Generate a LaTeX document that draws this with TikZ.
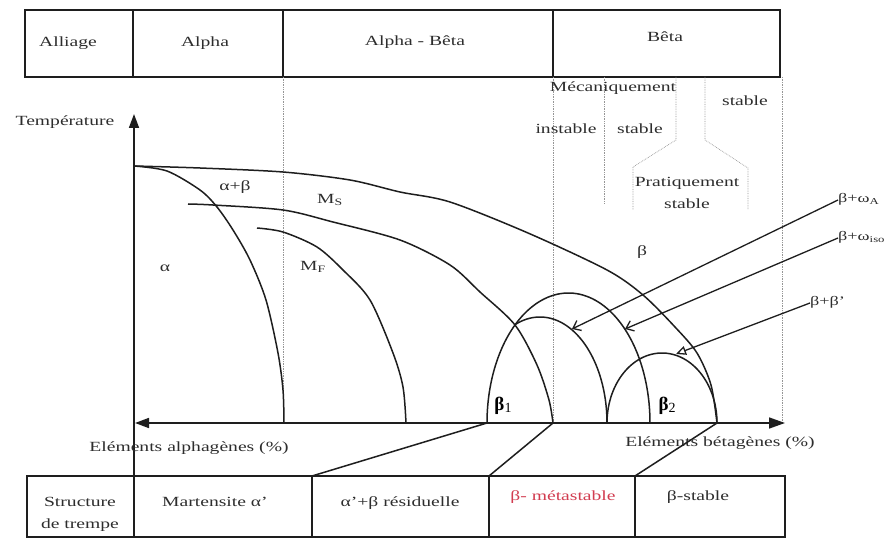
\documentclass[tikz,border=0pt]{standalone}
\usepackage{fontspec}
\setmainfont{Liberation Serif}[FakeStretch=1.4]
\newfontfamily\plainserif{Liberation Serif}
\usetikzlibrary{arrows.meta}
\definecolor{ink}{RGB}{30,30,30}
\definecolor{textink}{RGB}{45,45,45}
\definecolor{redtext}{RGB}{210,60,80}
\definecolor{dotgray}{RGB}{150,150,150}
\begin{document}
\begin{tikzpicture}[x=1pt,y=-1pt,
  txt/.style={font=\fontsize{14}{16}\selectfont, text=textink, inner sep=0pt, text height=9.5pt, text depth=3pt},
  smalltxt/.style={font=\fontsize{13}{15}\selectfont, text=textink, inner sep=0pt, text height=9pt, text depth=3pt},
  bigbeta/.style={font=\plainserif\fontsize{19}{21}\selectfont\bfseries, text=black, inner sep=0pt},
  curve/.style={line width=1.5pt, draw=ink},
  frame/.style={line width=1.7pt, draw=ink},
  guide/.style={densely dotted, draw=dotgray, line width=0.7pt},
  axisline/.style={line width=1.6pt, draw=ink},
  pointer/.style={line width=1.3pt, draw=ink, -{Straight Barb[length=7pt,width=11pt]}},
  openpointer/.style={line width=1.3pt, draw=ink, -{Triangle[open,length=10pt,width=9pt]}},
]
\useasboundingbox (0,0) rectangle (887,540);
\fill[white] (0,0) rectangle (887,540);

% ---------- top table ----------
\draw[frame] (25,10) rectangle (780,77);
\draw[frame] (133,10) -- (133,77) (283,10) -- (283,77) (553,10) -- (553,77);
\node[txt] (alliage) at (68,43) {Alliage};
\node[txt] (alpha) at (205,43) {Alpha};
\node[txt] (alphabeta) at (415,42) {Alpha - Bêta};
\node[txt] (betacol) at (665,38) {Bêta};

% ---------- dotted guides ----------
\draw[guide] (283,77) -- (283,423);
\draw[guide] (553,77) -- (553,423);
\draw[guide] (604,77) -- (604,203);
\draw[guide] (676,77) -- (676,140) -- (633,167) -- (633,210);
\draw[guide] (705,77) -- (705,140) -- (748,168) -- (748,210);
\draw[guide] (782,77) -- (782,423);

\node[txt] (meca) at (613,88) {Mécaniquement};
\node[txt] (instable) at (566,130) {instable};
\node[txt] (mstable) at (640,130) {stable};
\node[txt] (stable) at (745,102) {stable};
\node[txt] (prat) at (687,183) {Pratiquement};
\node[txt] (pstable) at (687,205) {stable};

% ---------- axes ----------
\coordinate (yaxbot) at (134,537);
\coordinate (yaxtop) at (134,114);
\coordinate (xaxleft) at (135,423);
\coordinate (xaxright) at (785,423);
\draw[axisline, -{Triangle[length=14pt,width=10pt]}] (yaxbot) -- (yaxtop);
\draw[axisline, {Triangle[length=14pt,width=10pt]}-{Triangle[length=16pt,width=11pt]}] (xaxleft) -- (xaxright);
\node[txt] (temp) at (65,122) {Température};
\node[txt] (alphagenes) at (189,448) {Eléments alphagènes (\%)};
\node[txt] (betagenes) at (720,443) {Eléments bétagènes (\%)};

% ---------- curves ----------
% beta transus
\draw[curve] plot[smooth] coordinates {(134,166) (200,168) (283,172) (350,180) (400,192) (450,202) (528,233) (607,270) (643,295) (675,327) (697,353) (711,385) (717,423)};
% alpha / alpha+beta
\draw[curve] plot[smooth] coordinates {(134,166) (167,171) (200,190) (217,207) (233,230) (250,260) (266,300) (278,353) (283,390) (284,423)};
% Ms
\draw[curve] plot[smooth] coordinates {(188,204) (213,205) (283,210) (333,222) (400,240) (450,265) (480,292) (515,325) (537,365) (549,400) (553,423)};
% Mf
\draw[curve] plot[smooth] coordinates {(257,228) (283,232) (317,247) (343,270) (370,300) (393,353) (403,387) (406,423)};
% beta1 outer arch
\draw[curve] plot[domain=180:360, samples=80] ({568.5+81.5*cos(\x)},{423+130*sin(\x)});
% beta1 inner arch
\draw[curve] plot[domain=248:360, samples=60] ({540+67*cos(\x)},{423+106*sin(\x)});
% beta2 arch
\draw[curve] plot[domain=180:360, samples=60] ({662+55*cos(\x)},{423+70*sin(\x)});

% ---------- region labels ----------
\node[txt] (lalpha) at (165,268) {α};
\node[txt] (lab) at (235,187) {α+β};
\node[txt] (lms) at (330,200) {M\textsubscript{S}};
\node[txt] (lmf) at (313,267) {M\textsubscript{F}};
\node[txt] (lbeta) at (642,252) {β};
\node[bigbeta] (b1) at (503,406) {β\raisebox{-2pt}{\fontsize{14}{14}\selectfont\mdseries 1}};
\node[bigbeta] (b2) at (667,406) {β\raisebox{-2pt}{\fontsize{14}{14}\selectfont\mdseries 2}};

% ---------- pointers ----------
\node[smalltxt, anchor=west] (wa) at (838,200) {β+ω\textsubscript{A}};
\node[smalltxt, anchor=west] (wi) at (838,238) {β+ω\textsubscript{iso}};
\node[smalltxt, anchor=west] (bb) at (810,303) {β+β'};
\coordinate (ta) at (572,329);
\coordinate (ti) at (625,329);
\coordinate (tb) at (676,354);
\draw[pointer] (wa.west) -- (ta);
\draw[pointer] (wi.west) -- (ti);
\draw[openpointer] (bb.west) -- (tb);

% ---------- bottom table ----------
\draw[frame] (27,476) rectangle (785,537);
\draw[frame] (312,476) -- (312,537) (489,476) -- (489,537) (635,476) -- (635,537);
\coordinate (c1) at (312,476);
\coordinate (c2) at (489,476);
\coordinate (c3) at (635,476);
\coordinate (f1) at (487,423);
\coordinate (f2) at (553,423);
\coordinate (f3) at (717,423);
\draw[curve] (c1) -- (f1);
\draw[curve] (c2) -- (f2);
\draw[curve] (c3) -- (f3);

\node[txt] (struct) at (80,503) {Structure};
\node[txt] (trempe) at (80,525) {de trempe};
\node[txt] (mart) at (215,503) {Martensite α'};
\node[txt] (resid) at (400,503) {α'+β résiduelle};
\node[txt, text=redtext] (meta) at (563,497) {β- métastable};
\node[txt] (bstable) at (698,497) {β-stable};
\end{tikzpicture}
\end{document}
